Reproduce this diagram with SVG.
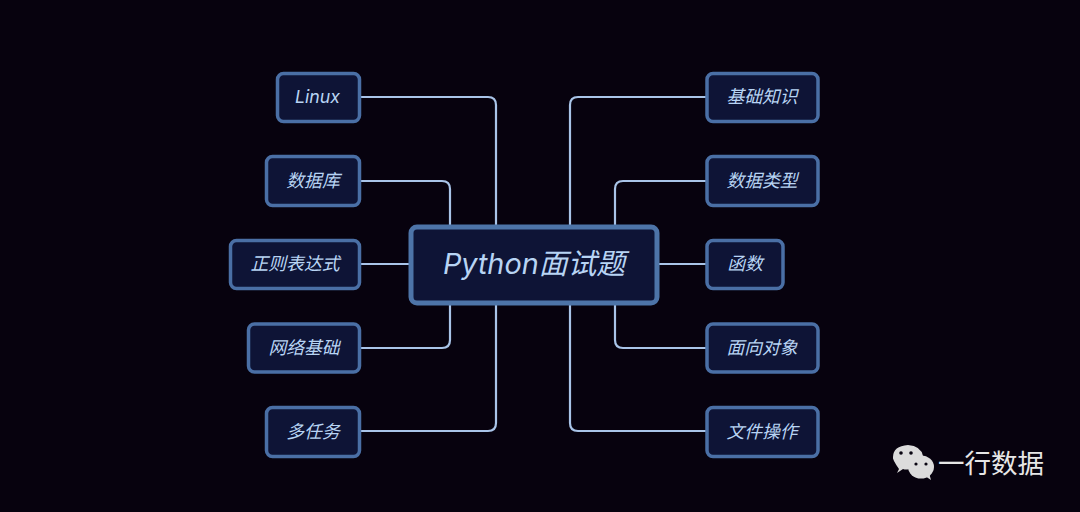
<svg xmlns="http://www.w3.org/2000/svg" width="1080" height="512" viewBox="0 0 1080 512">
<style>
.n{fill:#0e1436;stroke:#4a6fa5;stroke-width:3.500}
.m{fill:#0e1436;stroke:#4d74a8;stroke-width:5}
.c{fill:none;stroke:#a9c4e8;stroke-width:2.200}
text{font-family:"Inter","Noto Sans CJK SC",sans-serif;font-style:italic;font-weight:400;fill:#b8d4f4;text-anchor:middle;font-size:17.800px}
.t{font-size:28.800px}
.w{font-family:"Noto Sans CJK SC",sans-serif;font-style:normal;font-weight:400;fill:#e6e6e6;font-size:26.500px;text-anchor:start}
.i{fill:#dcdcdc}
.d{fill:#0a0612}
</style>
<rect width="1080" height="512" fill="#07020e"/>
<g id="connectors">
<path class="c" d="M360 97H488Q496 97 496 105V226"/>
<path class="c" d="M360 181H442Q450 181 450 189V226"/>
<path class="c" d="M360 264H411"/>
<path class="c" d="M360 348H442Q450 348 450 340V303"/>
<path class="c" d="M360 431H488Q496 431 496 423V303"/>
<path class="c" d="M706 97H578Q570 97 570 105V226"/>
<path class="c" d="M706 181H623Q615 181 615 189V226"/>
<path class="c" d="M657 264H706"/>
<path class="c" d="M706 348H623Q615 348 615 340V303"/>
<path class="c" d="M706 431H578Q570 431 570 423V303"/>
</g>
<g id="root"><rect class="m" x="411" y="227" width="246" height="76" rx="6"/><text class="t" x="534" y="274">Python面试题</text></g>
<g id="n1"><rect class="n" x="277.500" y="73.500" width="82" height="48" rx="6"/><text x="317.500" y="103">Linux</text></g>
<g id="n2"><rect class="n" x="266.500" y="156.500" width="93" height="49" rx="6"/><text x="313" y="186.500">数据库</text></g>
<g id="n3"><rect class="n" x="230.500" y="240.500" width="129" height="48" rx="6"/><text x="295" y="270">正则表达式</text></g>
<g id="n4"><rect class="n" x="248.500" y="324" width="111" height="48" rx="6"/><text x="304" y="354">网络基础</text></g>
<g id="n5"><rect class="n" x="266.500" y="407.500" width="93" height="49" rx="6"/><text x="313" y="437.500">多任务</text></g>
<g id="n6"><rect class="n" x="707" y="73.500" width="111" height="48" rx="6"/><text x="762" y="103">基础知识</text></g>
<g id="n7"><rect class="n" x="707" y="156.500" width="111" height="49" rx="6"/><text x="762" y="186.500">数据类型</text></g>
<g id="n8"><rect class="n" x="707" y="240.500" width="76" height="48" rx="6"/><text x="745" y="270">函数</text></g>
<g id="n9"><rect class="n" x="707" y="324" width="111" height="48" rx="6"/><text x="762" y="354">面向对象</text></g>
<g id="n10"><rect class="n" x="707" y="407.500" width="111" height="49" rx="6"/><text x="762" y="437.500">文件操作</text></g>
<g id="watermark">
<path class="i" d="M899 469Q892 459 893 457Q893 446 908 445Q921 446 923 456Q911 456 909 469Q906 470 903 469L897 473Z"/>
<ellipse class="i" cx="921" cy="467" rx="13" ry="11.500"/>
<path class="i" d="M925 476L931 480L929 473Z"/>
<circle class="d" cx="901" cy="453" r="1.800"/><circle class="d" cx="911" cy="453" r="1.800"/>
<circle class="d" cx="916" cy="464" r="1.600"/><circle class="d" cx="926" cy="464" r="1.600"/>
<text class="w" x="938" y="473">一行数据</text>
</g>
</svg>
